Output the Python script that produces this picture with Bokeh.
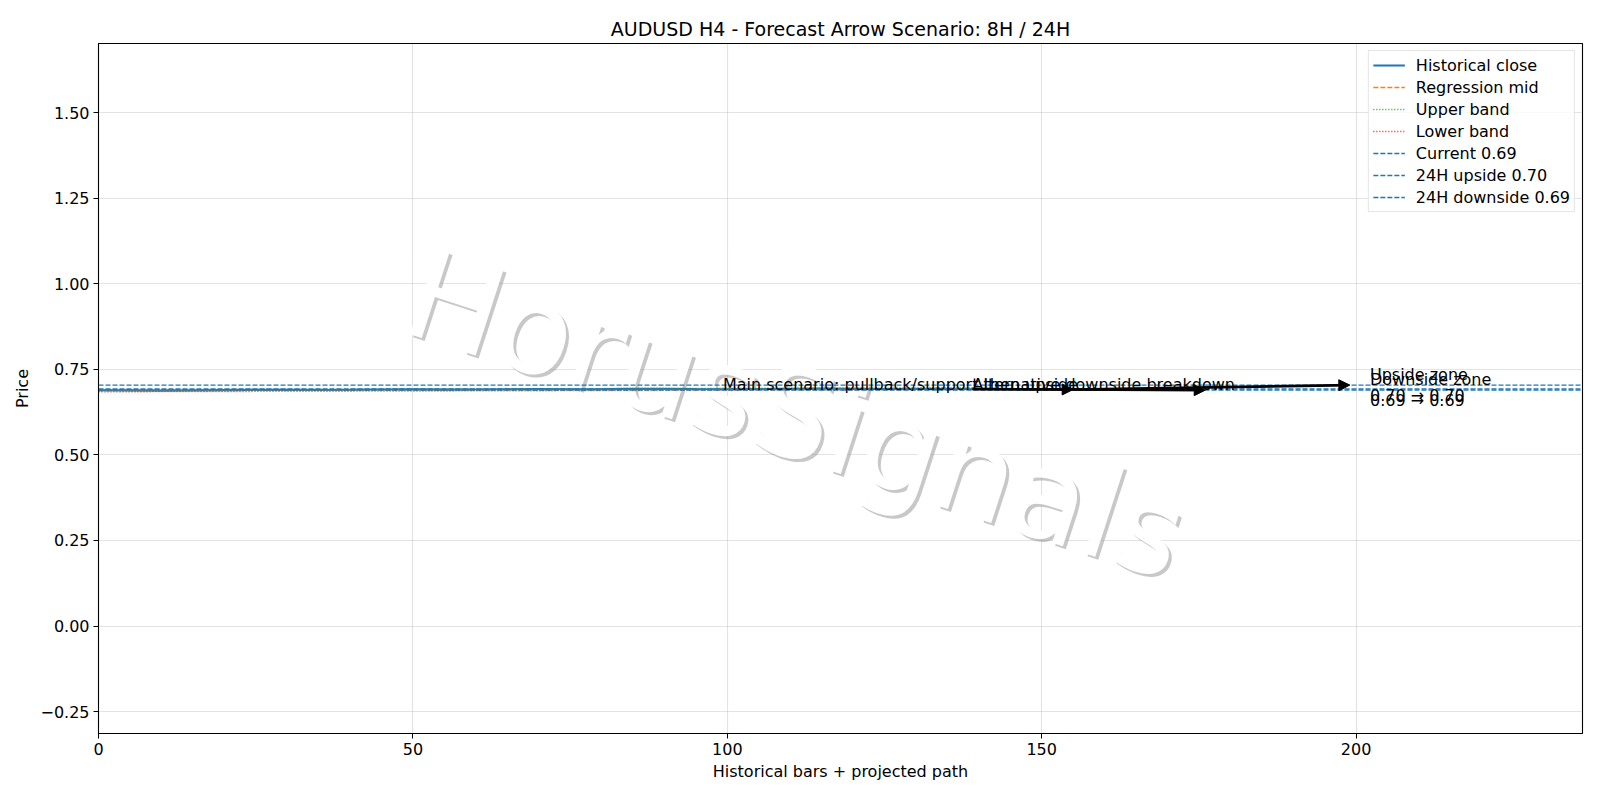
from bokeh.plotting import figure
from bokeh.models import Range1d, Arrow, NormalHead, FixedTicker, CustomJSTickFormatter
from bokeh.core.properties import value
from bokeh.embed import file_html
from bokeh.resources import INLINE

# ---------------- data ----------------
title = "AUDUSD H4 - Forecast Arrow Scenario: 8H / 24H"
hist_x = [0, 5, 10, 15, 20, 25, 30, 35, 40, 45, 50, 55, 60, 65, 70, 75, 80, 85, 90, 95,
          100, 105, 110, 115, 120, 125, 130, 135, 139]
hist_close = [0.6890, 0.6884, 0.6879, 0.6886, 0.6893, 0.6899, 0.6905, 0.6898, 0.6903, 0.6911,
              0.6915, 0.6908, 0.6912, 0.6919, 0.6923, 0.6916, 0.6921, 0.6928, 0.6931, 0.6924,
              0.6919, 0.6926, 0.6933, 0.6938, 0.6930, 0.6925, 0.6932, 0.6928, 0.6925]
reg_x = [0, 139]
reg_mid = [0.6872, 0.6935]
reg_upper = [0.6902, 0.6965]
reg_lower = [0.6842, 0.6905]

current_price = 0.6925
upside_24h = 0.7040
downside_24h = 0.6890
level_labels = ["Current 0.69", "24H upside 0.70", "24H downside 0.69"]

# arrows: (x0, y0, x1, y1)
main_arrows = [(139, 0.6925, 155, 0.6910), (155, 0.6910, 199, 0.7040)]
alt_arrows = [(139, 0.6925, 176, 0.6890)]

main_label = ("Main scenario: pullback/support then upside", 99.3, 0.7068)
alt_label = ("Alternative downside breakdown", 139.0, 0.7068)
zone_labels = [("Upside zone\n0.70 \u2192 0.70", 202.2, 0.7045),
               ("Downside zone\n0.69 \u2192 0.69", 202.2, 0.6900)]

x_min, x_max = 0, 236
y_min, y_max = -0.314, 1.702
x_ticks = [0, 50, 100, 150, 200]
y_ticks = [-0.25, 0.0, 0.25, 0.5, 0.75, 1.0, 1.25, 1.5]

watermark = ("HorusSignals", 111, 0.618)

FONT = "DejaVu Sans"
FS = "16px"

p = figure(width=1584, height=784, output_backend="svg", toolbar_location=None,
           x_range=Range1d(x_min, x_max), y_range=Range1d(y_min, y_max),
           min_border_left=98, min_border_right=2, min_border_top=43, min_border_bottom=51,
           title=title)
p.title.align = "center"
p.title.text_font = FONT
p.title.text_font_size = "19px"
p.title.text_font_style = "normal"
p.title.text_color = "black"
p.title.standoff = 8

p.outline_line_color = "black"
p.outline_line_width = 1.1
p.background_fill_color = "white"
p.border_fill_color = "white"

for ax in (p.xaxis[0], p.yaxis[0]):
    ax.major_label_text_font = FONT
    ax.major_label_text_font_size = FS
    ax.major_label_text_color = "black"
    ax.axis_label_text_font = FONT
    ax.axis_label_text_font_size = FS
    ax.axis_label_text_font_style = "normal"
    ax.axis_label_text_color = "black"
    ax.major_tick_out = 5
    ax.major_tick_in = 0
    ax.major_tick_line_color = "black"
    ax.minor_tick_out = 0
    ax.minor_tick_in = 0
    ax.axis_line_color = "black"
    ax.major_label_standoff = 4

p.xaxis.ticker = FixedTicker(ticks=x_ticks)
p.yaxis.ticker = FixedTicker(ticks=y_ticks)
p.yaxis.formatter = CustomJSTickFormatter(
    code="return (tick < 0 ? '\u2212' : '') + Math.abs(tick).toFixed(2);")
p.xaxis.axis_label = "Historical bars + projected path"
p.yaxis.axis_label = "Price"
p.xaxis.axis_label_standoff = 4
p.yaxis.axis_label_standoff = 5

p.grid.grid_line_color = "#b0b0b0"
p.grid.grid_line_alpha = 0.35
p.grid.grid_line_width = 1.1

# watermark
wm_text, wm_x, wm_y = watermark
p.text(x=[wm_x], y=[wm_y], text=[wm_text], angle=-18, angle_units="deg",
       text_font=value(FONT), text_font_size="124px", text_align="center",
       text_baseline="middle", text_color="#9a9a9a", text_alpha=0.55,
       x_offset=3, y_offset=3)
p.text(x=[wm_x], y=[wm_y], text=[wm_text], angle=-18, angle_units="deg",
       text_font=value(FONT), text_font_size="124px", text_align="center",
       text_baseline="middle", text_color="white", text_alpha=1.0)

# series
p.line(hist_x, hist_close, line_color="#1f77b4", line_width=2.1, legend_label="Historical close")
p.line(reg_x, reg_mid, line_color="#ff7f0e", line_width=1.3, line_dash="5 2",
       legend_label="Regression mid")
p.line(reg_x, reg_upper, line_color="#2ca02c", line_width=1.3, line_dash="1 2",
       legend_label="Upper band")
p.line(reg_x, reg_lower, line_color="#d62728", line_width=1.3, line_dash="1 2",
       legend_label="Lower band")
for lvl, lab in zip([current_price, upside_24h, downside_24h], level_labels):
    p.line([x_min, x_max], [lvl, lvl], line_color="#1f77b4", line_width=1.3,
           line_dash="5 2", legend_label=lab)

# arrows
for (x0, y0, x1, y1) in main_arrows + alt_arrows:
    p.add_layout(Arrow(x_start=x0, y_start=y0, x_end=x1, y_end=y1,
                       line_color="black", line_width=2.6,
                       end=NormalHead(size=11, fill_color="black", line_color="black",
                                      line_width=1)))

# labels
for (t, tx, ty) in [main_label, alt_label] + zone_labels:
    p.text(x=[tx], y=[ty], text=[t], text_font=value(FONT), text_font_size=FS,
           text_align="left", text_baseline="middle", text_color="black",
           text_line_height=1.1)

lg = p.legend[0]
lg.location = "top_right"
lg.margin = 7
lg.padding = 4
lg.spacing = 2
lg.glyph_width = 32
lg.glyph_height = 20
lg.label_height = 20
lg.label_standoff = 11
lg.label_text_font = FONT
lg.label_text_font_size = FS
lg.label_text_color = "black"
lg.border_line_color = "#cccccc"
lg.border_line_width = 1
lg.background_fill_alpha = 0.8

open("out.html", "w").write(file_html(p, INLINE))
